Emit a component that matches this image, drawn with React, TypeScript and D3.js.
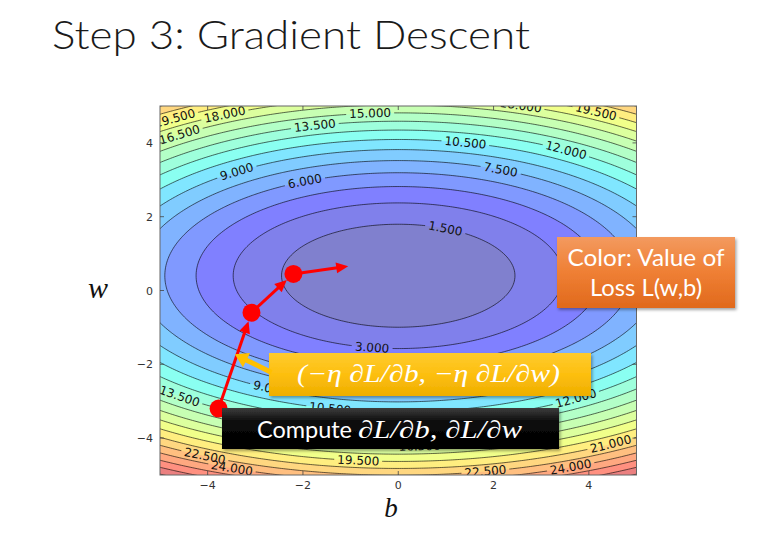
import React from "react";
import * as d3 from "d3";

const WIDTH = 782;
const HEIGHT = 533;

// Loss surface L(b, w) = cB * b^2 + cW * (w - w0)^2, coefficients
const lossCoefB = 0.25;
const lossCoefW = 0.77;
const lossCenterW = 0.4;

const contourLevels = [1.5, 3, 4.5, 6, 7.5, 9, 10.5, 12, 13.5, 15, 16.5, 18, 19.5, 21, 22.5, 24, 25.5, 27, 28.5];
const bandThresholds = [0, 1.5, 3, 4.5, 6, 7.5, 9, 10.5, 12, 13.5, 15, 16.5, 18, 19.5, 21, 22.5, 24, 25.5, 27, 28.5];
const colorTop = 30;

const tickValues = [-4, -2, 0, 2, 4];

// inline contour labels: level, b position, side of the minimum (+1 above, -1 below)
const labelLevels = [19.5, 18, 16.5, 15, 13.5, 9, 6, 10.5, 12, 7.5, 19.5, 18, 1.5, 3, 9, 13.5, 10.5, 12, 22.5, 24, 19.5, 21, 24, 22.5, 16.5];
const labelB = [-4.69, -3.64, -4.59, -0.59, -1.75, -3.39, -1.96, 1.41, 3.52, 2.15, 4.15, 2.57, 0.99, -0.55, -2.69, -4.59, -1.43, 3.73, -4.06, -3.49, -0.84, 4.46, 3.62, 1.83, 0.45];
const labelSide = [1, 1, 1, 1, 1, 1, 1, 1, 1, 1, 1, 1, 1, -1, -1, -1, -1, -1, -1, -1, -1, -1, -1, -1, -1];

// gradient descent iterates (b, w) and the next step direction
const stepB = [-3.77, -3.08, -2.2];
const stepW = [-3.2, -0.6, 0.45];
const nextStepB = -1.05;
const nextStepW = 0.66;

// yellow pointer (data coords): from box edge to the first step
const pointerFrom = [-2.66, -2.22];
const pointerTo = [-3.43, -1.73];

const x = d3.scaleLinear().domain([-5, 5]).range([160, 636.5]);
const y = d3.scaleLinear().domain([-5, 5]).range([475, 106]);

const loss = (b: number, w: number) => lossCoefB * b * b + lossCoefW * (w - lossCenterW) * (w - lossCenterW);

// matplotlib "jet" segment data
const jetR: [number, number][] = [[0, 0], [0.35, 0], [0.66, 1], [0.89, 1], [1, 0.5]];
const jetG: [number, number][] = [[0, 0], [0.125, 0], [0.375, 1], [0.64, 1], [0.91, 0], [1, 0]];
const jetB: [number, number][] = [[0, 0.5], [0.11, 1], [0.34, 1], [0.65, 0], [1, 0]];
function seg(s: [number, number][], t: number) {
  for (let i = 1; i < s.length; i++) {
    if (t <= s[i][0]) {
      const [x0, y0] = s[i - 1];
      const [x1, y1] = s[i];
      return y0 + ((t - x0) / (x1 - x0)) * (y1 - y0);
    }
  }
  return s[s.length - 1][1];
}
function bandColor(lo: number, hi: number) {
  const t = (lo + hi) / 2 / colorTop;
  const mix = (v: number) => Math.round(255 * (0.5 * v + 0.5));
  return `rgb(${mix(seg(jetR, t))},${mix(seg(jetG, t))},${mix(seg(jetB, t))})`;
}

const N = 240;
const EXT = 5.6;
const gridValues: number[] = new Array(N * N);
for (let j = 0; j < N; j++) {
  const w = EXT - ((j + 0.5) * 2 * EXT) / N;
  for (let i = 0; i < N; i++) {
    const b = -EXT + ((i + 0.5) * 2 * EXT) / N;
    gridValues[j * N + i] = loss(b, w);
  }
}
const bands = d3.contours().size([N, N]).thresholds(bandThresholds)(gridValues);
const projection = d3.geoTransform({
  point(px: number, py: number) {
    // @ts-ignore
    this.stream.point(x(-EXT + (px * 2 * EXT) / N), y(EXT - (py * 2 * EXT) / N));
  },
});
const pathGen = d3.geoPath(projection as any);

const kx = x(1) - x(0);
const ky = y(0) - y(1);

const labels = labelLevels.map((level, k) => {
  const b = labelB[k];
  const rest = Math.max(0, (level - lossCoefB * b * b) / lossCoefW);
  const w = lossCenterW + labelSide[k] * Math.sqrt(rest);
  const gb = 2 * lossCoefB * b;
  const gw = 2 * lossCoefW * (w - lossCenterW);
  let ang = (Math.atan2(-gb * ky, -gw * kx) * 180) / Math.PI;
  if (ang > 90) ang -= 180;
  if (ang < -90) ang += 180;
  const text = level.toFixed(3);
  return { level, px: x(b), py: y(w), ang, text, width: text.length * 7.0 + 6 };
});

function arrow(x1: number, y1: number, x2: number, y2: number, headLen: number, halfW: number, shrinkEnd: number) {
  const dx = x2 - x1, dy = y2 - y1;
  const len = Math.hypot(dx, dy);
  const ux = dx / len, uy = dy / len;
  const tx = x2 - ux * shrinkEnd, ty = y2 - uy * shrinkEnd;
  const bx = tx - ux * headLen, by = ty - uy * headLen;
  const nx = -uy, ny = ux;
  return {
    line: [x1, y1, bx + ux * 1, by + uy * 1],
    head: `${tx},${ty} ${bx + nx * halfW},${by + ny * halfW} ${bx - nx * halfW},${by - ny * halfW}`,
  };
}

export default function App() {
  const plotL = x(-5), plotR = x(5), plotT = y(5), plotB = y(-5);
  const levelsWithLabels = contourLevels.map((lv) => labels.filter((l) => l.level === lv));

  const pts = stepB.map((b, k) => [x(b), y(stepW[k])]);
  const redArrows = [
    arrow(pts[0][0], pts[0][1], pts[1][0], pts[1][1], 12, 5.5, 9),
    arrow(pts[1][0], pts[1][1], pts[2][0], pts[2][1], 12, 5.5, 9),
    arrow(pts[2][0], pts[2][1], x(nextStepB), y(nextStepW), 12, 5.5, 0),
  ];
  const yellowArrow = arrow(x(pointerFrom[0]), y(pointerFrom[1]), x(pointerTo[0]), y(pointerTo[1]), 13, 8, 0);

  return (
    <svg width={WIDTH} height={HEIGHT} style={{ position: "absolute", left: 0, top: 0, background: "#fff" }}>
      <defs>
        <clipPath id="plotClip">
          <rect x={plotL} y={plotT} width={plotR - plotL} height={plotB - plotT} />
        </clipPath>
        {levelsWithLabels.map((ls, k) =>
          ls.length ? (
            <mask key={k} id={`lm${k}`} maskUnits="userSpaceOnUse" x={0} y={0} width={WIDTH} height={HEIGHT}>
              <rect x={0} y={0} width={WIDTH} height={HEIGHT} fill="#fff" />
              {ls.map((l, i) => (
                <rect key={i} x={-l.width / 2} y={-6} width={l.width} height={12} fill="#000"
                  transform={`translate(${l.px},${l.py}) rotate(${l.ang})`} />
              ))}
            </mask>
          ) : null
        )}
        <filter id="shadow" x="-10%" y="-20%" width="125%" height="150%">
          <feDropShadow dx="1.5" dy="2" stdDeviation="1.5" floodColor="#000" floodOpacity="0.35" />
        </filter>
        <linearGradient id="gOrange" x1="0" y1="0" x2="0" y2="1">
          <stop offset="0" stopColor="#f39a5f" />
          <stop offset="0.5" stopColor="#ef7f34" />
          <stop offset="1" stopColor="#e0691c" />
        </linearGradient>
        <linearGradient id="gYellow" x1="0" y1="0" x2="0" y2="1">
          <stop offset="0" stopColor="#ffcb2e" />
          <stop offset="0.5" stopColor="#fdbf0f" />
          <stop offset="1" stopColor="#eeae00" />
        </linearGradient>
        <linearGradient id="gBlack" x1="0" y1="0" x2="0" y2="1">
          <stop offset="0" stopColor="#3c3c3c" />
          <stop offset="0.35" stopColor="#0a0a0a" />
          <stop offset="1" stopColor="#000" />
        </linearGradient>
      </defs>

      <text x={52} y={49} fontFamily="Lato, 'Open Sans', sans-serif" fontWeight={300} fontSize={39}
        fill="#1a1a1a" textLength={478} lengthAdjust="spacingAndGlyphs">
        Step 3: Gradient Descent
      </text>

      <g clipPath="url(#plotClip)">
        {bands.map((band, k) => (
          <path key={k} d={pathGen(band as any) || ""} fill={bandColor(bandThresholds[k], bandThresholds[k] + 1.5)}
            fillRule="evenodd" stroke="none" />
        ))}
        {bands.slice(1).map((band, k) => (
          <path key={k} d={pathGen(band as any) || ""} fill="none" stroke="#000" strokeOpacity={0.75}
            strokeWidth={0.8} mask={levelsWithLabels[k].length ? `url(#lm${k})` : undefined} />
        ))}
        {labels.map((l, i) => (
          <text key={i} transform={`translate(${l.px},${l.py}) rotate(${l.ang})`} textAnchor="middle"
            dominantBaseline="central" fontFamily="'DejaVu Sans', sans-serif" fontSize={12} fill="#111">
            {l.text}
          </text>
        ))}
      </g>

      <rect x={plotL} y={plotT} width={plotR - plotL} height={plotB - plotT} fill="none" stroke="#666" strokeWidth={1} />
      {tickValues.map((t) => (
        <g key={`t${t}`} stroke="#444" strokeWidth={0.8}>
          <line x1={x(t)} x2={x(t)} y1={plotB} y2={plotB - 4} />
          <line x1={x(t)} x2={x(t)} y1={plotT} y2={plotT + 4} />
          <line x1={plotL} x2={plotL + 4} y1={y(t)} y2={y(t)} />
          <line x1={plotR} x2={plotR - 4} y1={y(t)} y2={y(t)} />
        </g>
      ))}
      {tickValues.map((t) => (
        <text key={`xl${t}`} x={x(t)} y={489} textAnchor="middle" fontFamily="'DejaVu Sans', sans-serif"
          fontSize={11} fill="#333">{t < 0 ? `\u2212${-t}` : `${t}`}</text>
      ))}
      {tickValues.map((t) => (
        <text key={`yl${t}`} x={153} y={y(t) + 4} textAnchor="end" fontFamily="'DejaVu Sans', sans-serif"
          fontSize={11} fill="#333">{t < 0 ? `\u2212${-t}` : `${t}`}</text>
      ))}

      <text x={98} y={298} textAnchor="middle" fontFamily="'Liberation Serif', 'DejaVu Serif', serif"
        fontStyle="italic" fontSize={30} fill="#111">w</text>
      <text x={391} y={517} textAnchor="middle" fontFamily="'Liberation Serif', 'DejaVu Serif', serif"
        fontStyle="italic" fontSize={27} fill="#111">b</text>

      {redArrows.map((a, i) => (
        <g key={i}>
          <line x1={a.line[0]} y1={a.line[1]} x2={a.line[2]} y2={a.line[3]} stroke="#ff0000" strokeWidth={3} />
          <polygon points={a.head} fill="#ff0000" />
        </g>
      ))}
      {pts.map((p, i) => (
        <circle key={i} cx={p[0]} cy={p[1]} r={9} fill="#ff0000" />
      ))}

      <g filter="url(#shadow)">
        <rect x={557} y={237} width={178} height={71} fill="url(#gOrange)" />
      </g>
      <text x={646} y={266} textAnchor="middle" fontFamily="Lato, 'Open Sans', sans-serif" fontSize={23}
        fill="#fff" textLength={157} lengthAdjust="spacingAndGlyphs">Color: Value of</text>
      <text x={646} y={296} textAnchor="middle" fontFamily="Lato, 'Open Sans', sans-serif" fontSize={23}
        fill="#fff" textLength={112} lengthAdjust="spacingAndGlyphs">Loss L(w,b)</text>

      <g filter="url(#shadow)">
        <rect x={269} y={353} width={322} height={43} fill="url(#gYellow)" />
      </g>
      <text x={297} y={382} fontFamily="'Liberation Serif', 'DejaVu Serif', serif" fontStyle="italic" fontSize={25}
        fill="#fff" textLength={263} lengthAdjust="spacingAndGlyphs">(−η ∂L/∂b, −η ∂L/∂w)</text>

      <line x1={yellowArrow.line[0]} y1={yellowArrow.line[1]} x2={yellowArrow.line[2]} y2={yellowArrow.line[3]}
        stroke="#ffc000" strokeWidth={5} />
      <polygon points={yellowArrow.head} fill="#ffc000" />

      <g filter="url(#shadow)">
        <rect x={222} y={408} width={337} height={41} fill="url(#gBlack)" />
      </g>
      <text x={257} y={438} fontFamily="Lato, 'Open Sans', sans-serif" fontSize={24} fill="#fff"
        textLength={95} lengthAdjust="spacingAndGlyphs">Compute</text>
      <text x={358} y={438} fontFamily="'Liberation Serif', 'DejaVu Serif', serif" fontStyle="italic" fontSize={25}
        fill="#fff" textLength={164} lengthAdjust="spacingAndGlyphs">∂L/∂b, ∂L/∂w</text>
    </svg>
  );
}
